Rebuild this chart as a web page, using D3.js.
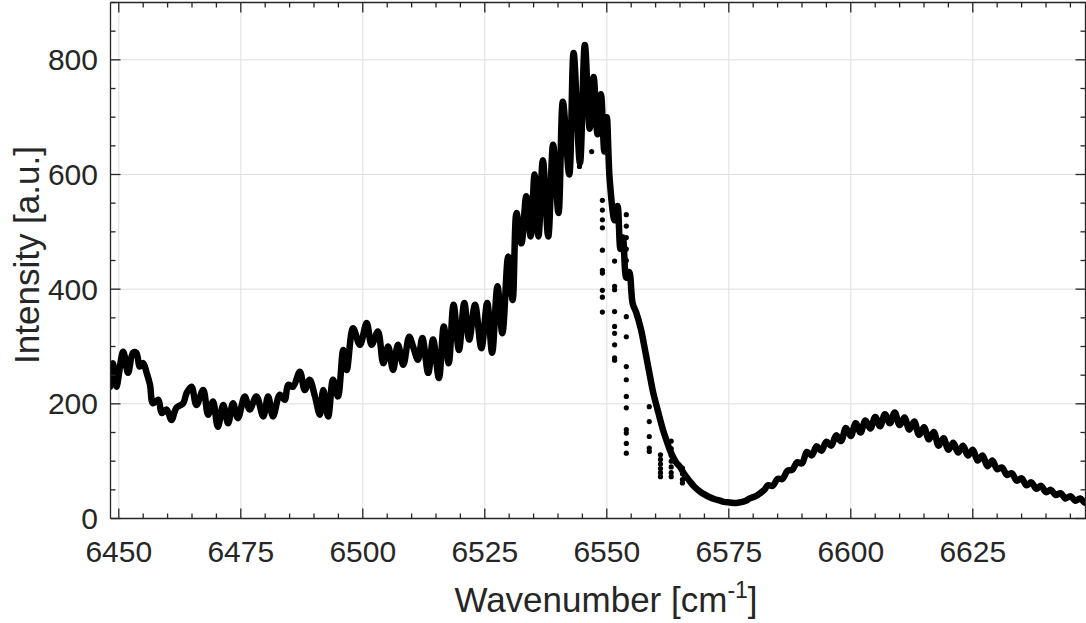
<!DOCTYPE html>
<html>
<head>
<meta charset="utf-8">
<script src="https://cdn.jsdelivr.net/npm/d3@7"></script>
<style>
  html, body { margin: 0; padding: 0; background: #fff; }
  svg { display: block; }
  text { font-family: "Liberation Sans", Arial, Helvetica, sans-serif; fill: #262626; }
</style>
</head>
<body>
<svg id="chart" width="1086" height="623"></svg>
<script>
// ---- data ----
const wavenumber = [
  6448.2,6448.8,6449.5,6450.9,6451.9,6452.9,6453.6,6454.3,6455.0,6455.7,
  6456.4,6457.0,6458.1,6458.8,6459.8,6460.8,6461.8,6463.2,6463.9,6464.9,
  6465.9,6467.3,6468.3,6469.3,6470.3,6471.4,6472.4,6473.4,6474.4,6475.8,
  6476.8,6478.2,6479.6,6480.6,6481.6,6483.0,6484.0,6484.7,6485.7,6487.1,
  6488.1,6489.1,6490.2,6491.2,6491.9,6492.9,6493.9,6494.9,6496.0,6496.7,
  6498.0,6499.4,6500.8,6501.8,6503.1,6504.2,6505.2,6506.2,6507.2,6508.3,
  6509.5,6510.3,6511.3,6512.2,6513.4,6514.4,6515.6,6516.6,6517.6,6518.6,
  6519.7,6520.8,6521.8,6523.0,6524.3,6525.5,6526.5,6527.6,6528.6,6529.8,
  6530.7,6531.5,6532.5,6533.5,6534.4,6535.2,6536.0,6536.9,6538.0,6539.0,
  6540.1,6541.0,6542.3,6543.2,6544.5,6545.5,6546.5,6547.3,6548.1,6548.8,
  6549.5,6550.0,6550.6,6551.6,6552.2,6552.8,6553.3,6554.0,6554.6,6555.3,
  6556.0,6557.0,6557.7,6558.7,6559.5,6560.4,6561.5,6562.2,6563.0,6564.2,
  6565.0,6566.0,6567.0,6568.0,6569.1,6570.0,6571.1,6572.0,6573.2,6574.0,
  6575.2,6576.5,6577.3,6578.5,6579.3,6580.5,6581.4,6582.3,
  6583,6584,6585,6586,6587,6588,6589,6590,6591,6592,6593,6594,6595,6596,
  6597,6598,6599,6600,6601,6602,6603,6604,6605,6606,6607,6608,6609,6610,
  6611,6612,6613,6614,6615,6616,6617,6618,6619,6620,6621,6622,6623,6624,
  6625,6626,6627,6628,6629,6630,6631,6632,6633,6634,6635,6636,6637,6638,
  6639,6640,6641,6642,6643,6644,6645,6646,6647,6648,6648.5
];
const intensity = [
  230,271,230,291,254,289,289,265,271,254,
  233,201,207,184,190,172,193,201,219,230,
  198,224,181,204,160,198,166,201,175,213,
  190,213,178,213,178,216,207,233,230,256,
  224,242,213,181,224,178,242,213,294,259,
  332,303,341,303,326,271,300,259,303,268,
  317,300,277,315,254,312,245,335,271,373,
  294,376,312,373,297,376,289,405,323,457,
  381,533,480,562,492,600,492,625,492,652,
  533,727,600,812,620,826,680,770,670,740,
  640,700,590,520,545,470,490,420,430,375,
  360,330,300,255,220,190,155,137,118,98,
  90,76,65,55,47,42,37,34,31,29,
  28,27,28,31,35,39,44,50,
  58,57,69,69,83,85,98,96,116,110,126,118,134,127,
  145,135,158,144,166,150,171,157,177,161,182,166,185,163,
  176,155,169,146,159,138,151,127,140,120,132,115,127,110,
  120,101,110,91,101,86,89,76,79,66,70,58,63,52,
  57,46,50,41,44,35,39,31,35,27,30
];
// isolated drop-out points below the main band
const dropWavenumber = [
  6544.4,6544.4,6544.4,6546.9,
  6549.1,6549.1,6549.1,6549.1,6549.1,6549.1,6549.1,6549.1,6549.1,6549.1,
  6551.6,6551.6,6551.6,6551.6,6551.6,6551.6,6551.6,6551.6,6551.6,
  6554.0,6554.0,6554.0,6554.0,6554.0,6554.0,6554.0,6554.0,6554.0,6554.0,6554.0,6554.0,6554.0,6554.0,6554.0,6554.0,
  6558.7,6558.7,6558.7,6558.7,6558.7,
  6561.0,6561.0,6561.0,6561.0,6561.0,6561.0,
  6563.2,6563.2,6563.2,6563.2,6563.2,6563.2,6563.2,
  6565.5,6565.5,6565.5,6565.5
];
const dropIntensity = [
  650,630,614,640,
  555,538,521,507,468,433,428,398,386,360,
  449,405,399,361,335,323,303,280,276,
  530,510,490,470,450,430,352,317,265,242,213,193,155,149,131,114,
  195,169,143,123,117,
  111,103,95,87,80,73,
  135,122,110,100,90,80,73,
  88,78,68,62
];
const xTickValues = [6450, 6475, 6500, 6525, 6550, 6575, 6600, 6625];
const yTickValues = [0, 200, 400, 600, 800];
const xDomain = [6448.3, 6648.3];
const yDomain = [0, 900];
const xLabel = "Wavenumber [cm";
const yLabel = "Intensity [a.u.]";

// ---- layout ----
const svg = d3.select("#chart");
const L = 110.5, R = 1086.5, T = 2.5, B = 518.5;
const axisColor = "#262626";
const gridColor = "#dfdfdf";

const x = d3.scaleLinear().domain(xDomain).range([L, R]);
const y = d3.scaleLinear().domain(yDomain).range([B, T]);

svg.append("defs").append("clipPath").attr("id", "plotclip")
  .append("rect").attr("x", L).attr("y", T).attr("width", R - L).attr("height", B - T);

// grid
const grid = svg.append("g");
grid.selectAll("line.gx").data(xTickValues).join("line")
  .attr("x1", d => x(d)).attr("x2", d => x(d)).attr("y1", T).attr("y2", B)
  .attr("stroke", gridColor).attr("stroke-width", 1);
grid.selectAll("line.gy").data(yTickValues.filter(v => v > 0)).join("line")
  .attr("y1", d => y(d)).attr("y2", d => y(d)).attr("x1", L).attr("x2", R)
  .attr("stroke", gridColor).attr("stroke-width", 1);

// data
const pts = wavenumber.map((w, i) => [w, intensity[i]]);
const plot = svg.append("g").attr("clip-path", "url(#plotclip)");
plot.append("path")
  .datum(pts)
  .attr("fill", "none")
  .attr("stroke", "#000")
  .attr("stroke-width", 6.5)
  .attr("stroke-linejoin", "round")
  .attr("stroke-linecap", "round")
  .attr("d", d3.line().x(d => x(d[0])).y(d => y(d[1])).curve(d3.curveCatmullRom));
plot.selectAll("circle.drop").data(dropWavenumber.map((w, i) => [w, dropIntensity[i]]))
  .join("circle")
  .attr("cx", d => x(d[0])).attr("cy", d => y(d[1])).attr("r", 2.6).attr("fill", "#000");

// axes
const xMinor = d3.range(6450, 6649, 5);
const yMinor = d3.range(0, 901, 50);
const ax = svg.append("g").attr("stroke", axisColor).attr("stroke-width", 1.3);
ax.append("line").attr("x1", L).attr("x2", R).attr("y1", B).attr("y2", B);
ax.append("line").attr("x1", L).attr("x2", R).attr("y1", T).attr("y2", T);
ax.append("line").attr("x1", L).attr("x2", L).attr("y1", T).attr("y2", B);
ax.append("line").attr("x1", R - 1).attr("x2", R - 1).attr("y1", T).attr("y2", B);
xMinor.forEach(v => {
  const major = xTickValues.includes(v);
  const len = major ? 10 : 5;
  ax.append("line").attr("x1", x(v)).attr("x2", x(v)).attr("y1", B).attr("y2", B - len);
  ax.append("line").attr("x1", x(v)).attr("x2", x(v)).attr("y1", T).attr("y2", T + len);
});
yMinor.forEach(v => {
  const major = yTickValues.includes(v);
  const len = major ? 10 : 5;
  ax.append("line").attr("y1", y(v)).attr("y2", y(v)).attr("x1", L).attr("x2", L + len);
  ax.append("line").attr("y1", y(v)).attr("y2", y(v)).attr("x1", R - 1).attr("x2", R - 1 - len);
});

// tick labels
svg.append("g").selectAll("text").data(xTickValues).join("text")
  .attr("x", d => x(d)).attr("y", 562)
  .attr("text-anchor", "middle").attr("font-size", 30)
  .text(d => d);
svg.append("g").selectAll("text").data(yTickValues).join("text")
  .attr("x", 98).attr("y", d => y(d)).attr("dy", "0.35em")
  .attr("text-anchor", "end").attr("font-size", 30)
  .text(d => d);

// axis titles
const xt = svg.append("text").attr("x", 606).attr("y", 612)
  .attr("text-anchor", "middle").attr("font-size", 35);
xt.append("tspan").text(xLabel);
xt.append("tspan").attr("font-size", 23).attr("dy", -14).text("-1");
xt.append("tspan").attr("dy", 14).text("]");

svg.append("text")
  .attr("transform", `translate(39, 255) rotate(-90)`)
  .attr("text-anchor", "middle").attr("font-size", 35)
  .text(yLabel);
</script>
</body>
</html>
